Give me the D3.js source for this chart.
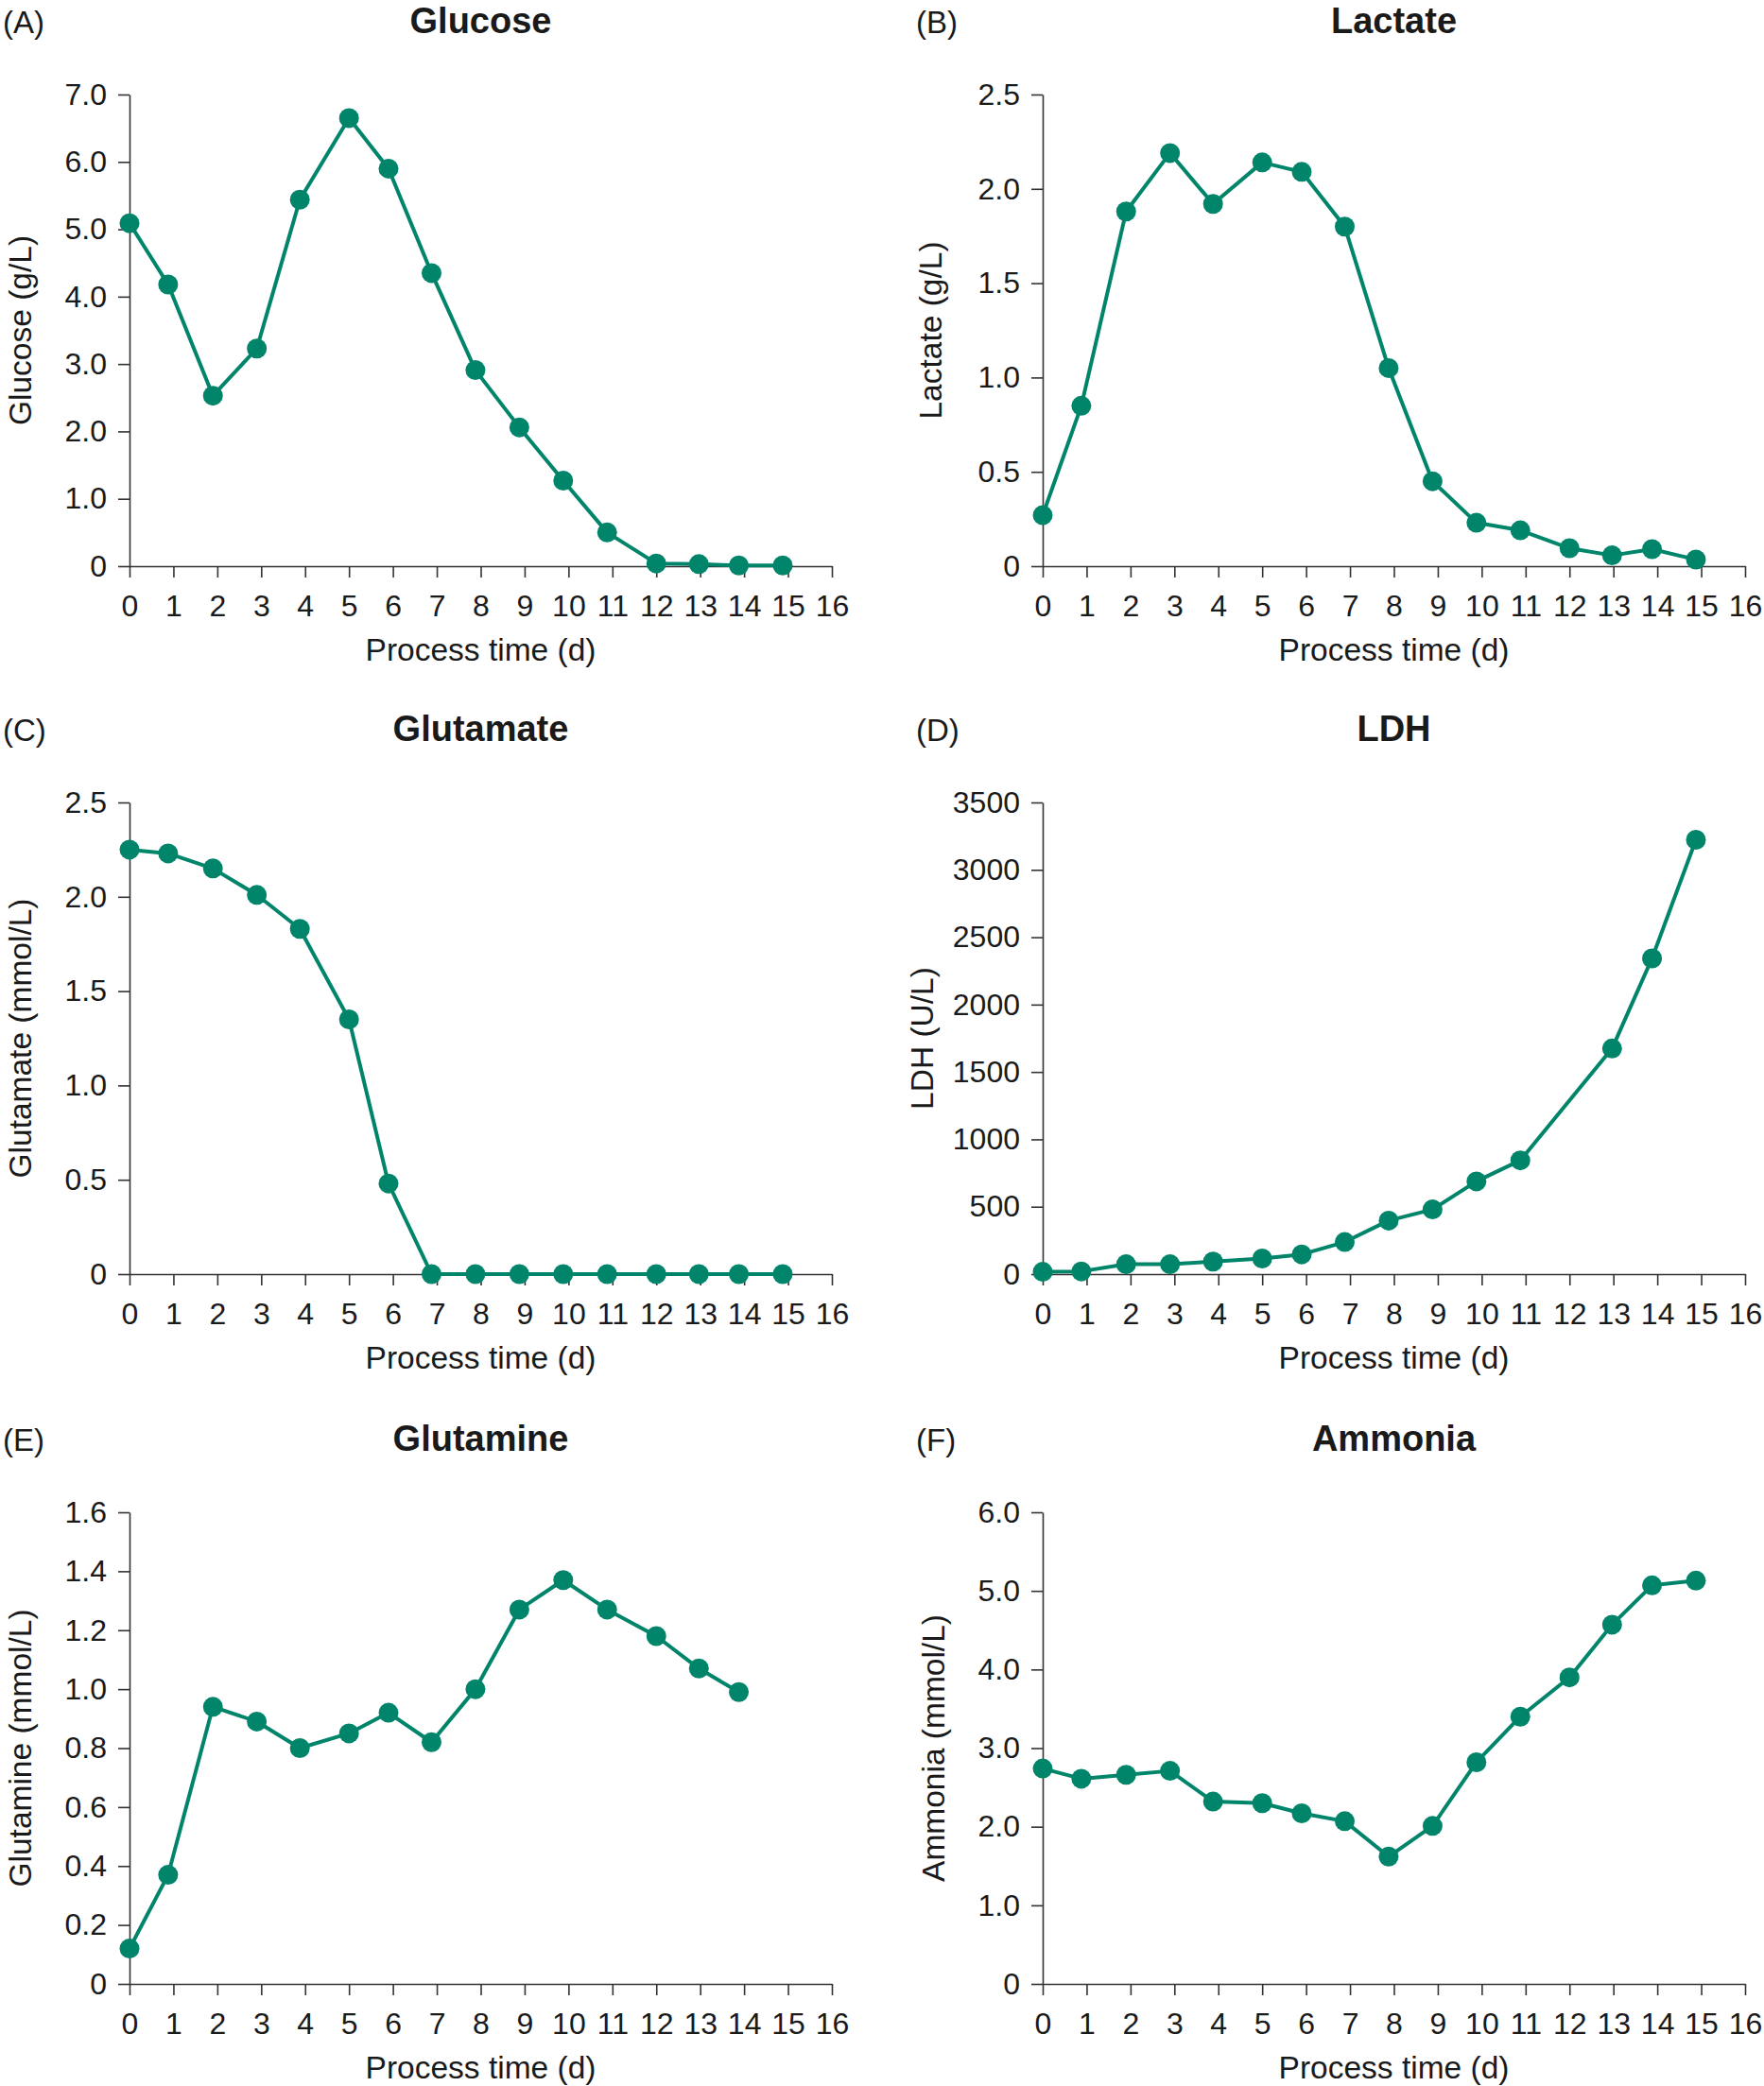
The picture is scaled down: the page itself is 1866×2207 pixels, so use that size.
<!DOCTYPE html>
<html>
<head>
<meta charset="utf-8">
<script src="https://cdn.jsdelivr.net/npm/d3@7"></script>
<style>
  body { margin: 0; background: #fff; }
  text { font-family: "Liberation Sans", Arial, sans-serif; fill: #1a1a1a; }
</style>
</head>
<body>
<div id="chart"></div>
<script>
// process time (d) of each sample
const days = [0, 0.88, 1.9, 2.9, 3.88, 5.0, 5.9, 6.88, 7.88, 8.88, 9.88, 10.88, 12.0, 12.97, 13.88, 14.88];

const glucose   = [5.09, 4.18, 2.53, 3.23, 5.44, 6.65, 5.90, 4.35, 2.91, 2.06, 1.27, 0.50, 0.04, 0.03, 0.01, 0.01];
const lactate   = [0.27, 0.85, 1.88, 2.19, 1.92, 2.14, 2.09, 1.80, 1.05, 0.45, 0.23, 0.19, 0.095, 0.057, 0.09, 0.035];
const glutamate = [2.25, 2.23, 2.15, 2.01, 1.83, 1.35, 0.48, 0, 0, 0, 0, 0, 0, 0, 0, 0];
const ldh       = [17, 20, 73, 73, 93, 116, 146, 238, 397, 480, 688, 844, null, 1674, 2343, 3223];
const glutamine = [0.12, 0.37, 0.94, 0.89, 0.80, 0.85, 0.92, 0.82, 1.00, 1.27, 1.37, 1.27, 1.18, 1.07, 0.99, null];
const ammonia   = [2.74, 2.61, 2.66, 2.71, 2.32, 2.30, 2.17, 2.07, 1.62, 2.01, 2.82, 3.40, 3.90, 4.57, 5.07, 5.13];

// tick values
const dayTicks = [0, 1, 2, 3, 4, 5, 6, 7, 8, 9, 10, 11, 12, 13, 14, 15, 16];
const glucoseTicks = [0, 1, 2, 3, 4, 5, 6, 7];
const halfTicks = [0, 0.5, 1, 1.5, 2, 2.5];
const ldhTicks = [0, 500, 1000, 1500, 2000, 2500, 3000, 3500];
const glutamineTicks = [0, 0.2, 0.4, 0.6, 0.8, 1.0, 1.2, 1.4, 1.6];
const ammoniaTicks = [0, 1, 2, 3, 4, 5, 6];

const panels = [
  { tag: '(A)', title: 'Glucose',   ylab: 'Glucose (g/L)',        values: glucose,   ticks: glucoseTicks,   fmt: '.1f' },
  { tag: '(B)', title: 'Lactate',   ylab: 'Lactate (g/L)',        values: lactate,   ticks: halfTicks,      fmt: '.1f' },
  { tag: '(C)', title: 'Glutamate', ylab: 'Glutamate (mmol/L)',   values: glutamate, ticks: halfTicks,      fmt: '.1f' },
  { tag: '(D)', title: 'LDH',       ylab: 'LDH (U/L)',            values: ldh,       ticks: ldhTicks,       fmt: 'd' },
  { tag: '(E)', title: 'Glutamine', ylab: 'Glutamine (mmol/L)',   values: glutamine, ticks: glutamineTicks, fmt: '.1f' },
  { tag: '(F)', title: 'Ammonia',   ylab: 'Ammonia (mmol/L)',     values: ammonia,   ticks: ammoniaTicks,   fmt: '.1f' }
];

// layout
const W = 1866, H = 2207;
const colX = [137, 1103];
const rowY = [100, 849, 1600];
const plotW = 743, plotH = 499;
const tagX = [3, 969];
const ylabX = [21, 984, 21, 975, 21, 987];
const color = '#00856b';

const svg = d3.select('#chart').append('svg')
  .attr('width', W)
  .attr('height', H);

svg.append('rect').attr('width', W).attr('height', H).attr('fill', '#fff');

panels.forEach((p, i) => {
  const col = i % 2, row = Math.floor(i / 2);
  const g = svg.append('g')
    .attr('transform', `translate(${colX[col]},${rowY[row]})`);

  const x = d3.scaleLinear().domain([0, 16]).range([0, plotW]);
  const y = d3.scaleLinear().domain([0, d3.max(p.ticks)]).range([plotH, 0]);
  const f = d3.format(p.fmt);

  // axes
  const yAxis = g.append('g')
    .call(d3.axisLeft(y).tickValues(p.ticks).tickSize(12).tickSizeOuter(0).tickPadding(12)
      .tickFormat(d => d === 0 ? '0' : f(d)));
  const xAxis = g.append('g')
    .attr('transform', `translate(0,${plotH})`)
    .call(d3.axisBottom(x).tickValues(dayTicks).tickSize(12).tickSizeOuter(0).tickPadding(18)
      .tickFormat(d3.format('d')));

  [xAxis, yAxis].forEach(a => {
    a.selectAll('path, line').attr('stroke', '#333').attr('stroke-width', 1.6);
    a.selectAll('text')
      .style('font-family', '"Liberation Sans", Arial, sans-serif')
      .style('font-size', '32px')
      .attr('fill', '#1a1a1a');
  });

  // series
  const pts = days.map((d, k) => ({ t: d, v: p.values[k] })).filter(d => d.v != null);

  g.append('path')
    .datum(pts)
    .attr('fill', 'none')
    .attr('stroke', color)
    .attr('stroke-width', 4)
    .attr('stroke-linejoin', 'round')
    .attr('d', d3.line().x(d => x(d.t)).y(d => y(d.v)));

  g.selectAll('.dot')
    .data(pts)
    .enter().append('circle')
    .attr('class', 'dot')
    .attr('cx', d => x(d.t))
    .attr('cy', d => y(d.v))
    .attr('r', 10.5)
    .attr('fill', color);

  // texts
  svg.append('text')
    .attr('x', tagX[col])
    .attr('y', rowY[row] - 65)
    .style('font-size', '33px')
    .text(p.tag);

  svg.append('text')
    .attr('x', colX[col] + plotW / 2)
    .attr('y', rowY[row] - 65)
    .attr('text-anchor', 'middle')
    .style('font-size', '38px')
    .style('font-weight', 'bold')
    .text(p.title);

  g.append('text')
    .attr('x', plotW / 2)
    .attr('y', plotH + 100)
    .attr('text-anchor', 'middle')
    .style('font-size', '33.5px')
    .text('Process time (d)');

  svg.append('text')
    .attr('transform', `translate(${ylabX[i]},${rowY[row] + plotH / 2}) rotate(-90)`)
    .attr('text-anchor', 'middle')
    .attr('dy', '0.35em')
    .style('font-size', '33.5px')
    .text(p.ylab);
});
</script>
</body>
</html>
